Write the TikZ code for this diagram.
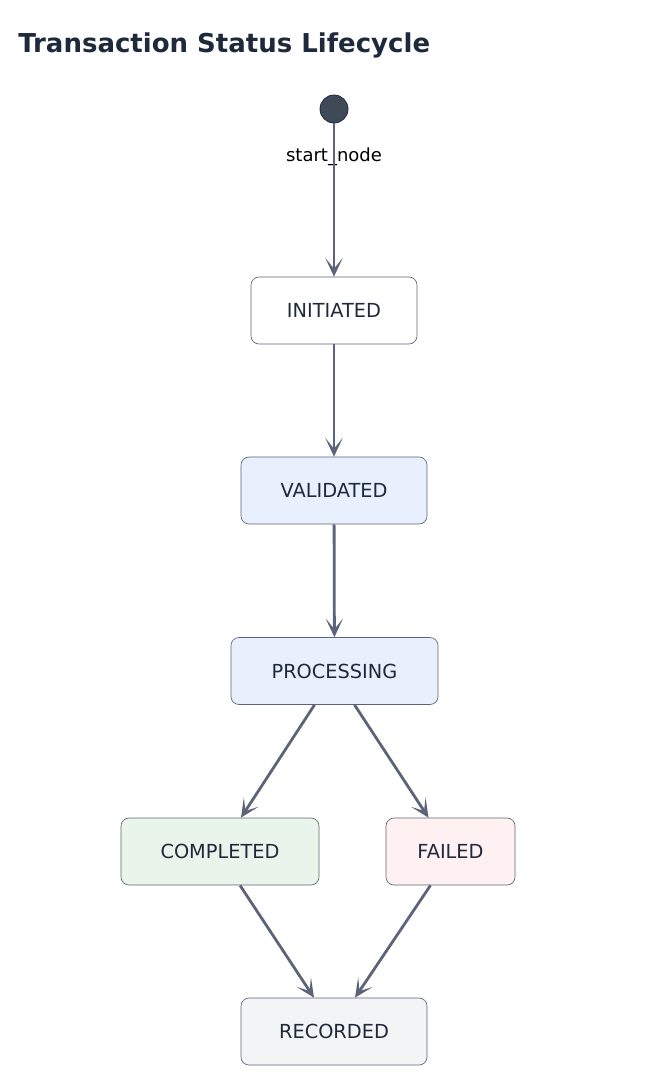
\documentclass[tikz,border=0pt]{standalone}
\usepackage{fontspec}
\setmainfont{DejaVu Sans}
\usetikzlibrary{arrows.meta}
\definecolor{txt}{HTML}{1E293B}
\definecolor{edge}{HTML}{5B6478}
\definecolor{bord}{HTML}{5B6478}
\definecolor{cblue}{HTML}{E8F0FE}
\definecolor{cgreen}{HTML}{E9F5EA}
\definecolor{cred}{HTML}{FFF1F1}
\definecolor{cgray}{HTML}{F3F4F6}
\begin{document}
\begin{tikzpicture}[x=0.75pt,y=-0.75pt,
  st/.style={draw=bord,line width=0.5pt,rounded corners=6pt,font=\fontsize{14.5}{17}\selectfont,text=txt,minimum height=50.25pt,inner sep=0pt},
  ar/.style={draw=edge,line width=2.1pt,-{Stealth[length=14pt,width=13pt,inset=8pt]}}]
\useasboundingbox (0,0) rectangle (646,1090);
\node[anchor=base west,font=\fontsize{19.5}{24}\bfseries\selectfont,text=txt,inner sep=0pt] (title) at (18,52) {Transaction Status Lifecycle};
\node[circle,fill=txt!85,draw=txt,line width=0.6pt,minimum size=21pt,inner sep=0pt] (start) at (334,109) {};
\node[font=\fontsize{13.5}{16}\selectfont,text=black] (lbl) at (334,157) {start\_node};
\node[st,fill=white,minimum width=124.5pt] (ini) at (334,310.5) {INITIATED};
\node[st,fill=cblue,minimum width=139.5pt] (val) at (334,490.5) {VALIDATED};
\node[st,fill=cblue,minimum width=155.25pt] (pro) at (334.5,671) {PROCESSING};
\node[st,fill=cgreen,minimum width=148.5pt] (com) at (220,851.5) {COMPLETED};
\node[st,fill=cred,minimum width=96.75pt] (fai) at (450.5,851.5) {FAILED};
\node[st,fill=cgray,minimum width=139.5pt] (rec) at (334,1031.5) {RECORDED};
\draw[ar] (start) -- (ini);
\draw[ar] (ini) -- (val);
\draw[ar] (val) -- (pro);
\draw[ar] ([xshift=-15pt]pro.south) -- ([xshift=15.75pt]com.north);
\draw[ar] ([xshift=15pt]pro.south) -- ([xshift=-16.5pt]fai.north);
\draw[ar] ([xshift=15pt]com.south) -- ([xshift=-15pt]rec.north);
\draw[ar] ([xshift=-15pt]fai.south) -- ([xshift=15.75pt]rec.north);
\end{tikzpicture}
\end{document}
